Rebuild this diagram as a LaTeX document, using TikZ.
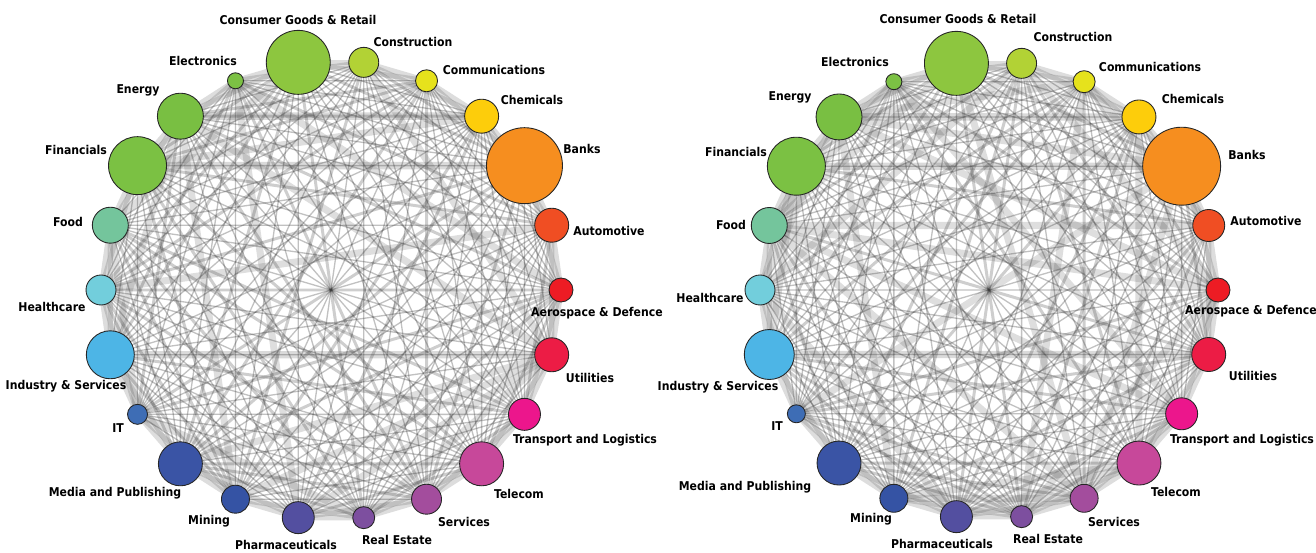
\documentclass[tikz,border=0pt]{standalone}
\usepackage{fontspec}
\setmainfont{DejaVu Sans Condensed}
\usepackage{tikz}
\usetikzlibrary{backgrounds,calc}
\definecolor{cgoods}{HTML}{8DC63F}
\definecolor{constr}{HTML}{B2D235}
\definecolor{comms}{HTML}{E6E21C}
\definecolor{chems}{HTML}{FDCD0B}
\definecolor{banks}{HTML}{F68E1F}
\definecolor{autom}{HTML}{F04E23}
\definecolor{aero}{HTML}{ED1C24}
\definecolor{utils}{HTML}{EC1C45}
\definecolor{transp}{HTML}{EC168C}
\definecolor{telco}{HTML}{C7489A}
\definecolor{servs}{HTML}{A34D9D}
\definecolor{realest}{HTML}{7D4F9F}
\definecolor{pharma}{HTML}{534FA0}
\definecolor{mining}{HTML}{3553A4}
\definecolor{media}{HTML}{3A54A5}
\definecolor{itblue}{HTML}{3E6DB5}
\definecolor{indus}{HTML}{4DB5E6}
\definecolor{health}{HTML}{72CEDC}
\definecolor{food}{HTML}{74C59C}
\definecolor{finan}{HTML}{7BC143}
\definecolor{energy}{HTML}{79BF42}
\definecolor{electr}{HTML}{7CC144}
\tikzset{
    every picture/.style={line cap=round,line join=round},
    sector/.style={circle,draw=black!85,line width=0.5pt,inner sep=0pt,outer sep=0pt},
    sectorlabel/.style={font=\bfseries\fontsize{6.9}{8}\selectfont,inner sep=0pt,text=black},
    link/.style={draw=black!80,line cap=butt},
}
% index/radius/colour/label x/label y/label text
\newcommand{\leftsectors}{%
    0/32/cgoods/298/532/Consumer Goods \& Retail,
    1/15/constr/413/510/Construction,
    2/11/comms/494/482/Communications,
    3/17/chems/532/452/Chemicals,
    4/38/banks/582/403/Banks,
    5/17/autom/609/321/Automotive,
    6/12/aero/597/239/Aerospace \& Defence,
    7/17/utils/590/174/Utilities,
    8/16/transp/585/112/Transport and Logistics,
    9/22/telco/519/58/Telecom,
    10/15/servs/464/30/Services,
    11/11/realest/397/12/Real Estate,
    12/16/pharma/286/7/Pharmaceuticals,
    13/14/mining/209/31/Mining,
    14/22/media/115/59/Media and Publishing,
    15/10/itblue/118/124/IT,
    16/24/indus/66/166/Industry \& Services,
    17/15/health/52/245/Healthcare,
    18/18/food/68/330/Food,
    19/29/finan/76/402/Financials,
    20/23/energy/138/462/Energy,
    21/8/electr/203/491/Electronics}
\newcommand{\rightsectors}{%
    0/32/cgoods/958/533/Consumer Goods \& Retail,
    1/15/constr/1073/515/Construction,
    2/11/comms/1150/485/Communications,
    3/17/chems/1193/453/Chemicals,
    4/39/banks/1247/397/Banks,
    5/16/autom/1266/331/Automotive,
    6/12/aero/1251/241/Aerospace \& Defence,
    7/17/utils/1253/176/Utilities,
    8/16/transp/1242/112/Transport and Logistics,
    9/22/telco/1176/60/Telecom,
    10/14/servs/1114/30/Services,
    11/11/realest/1048/13/Real Estate,
    12/16/pharma/942/8/Pharmaceuticals,
    13/14/mining/871/33/Mining,
    14/22/media/745/65/Media and Publishing,
    15/9/itblue/777/126/IT,
    16/25/indus/718/165/Industry \& Services,
    17/15/health/710/254/Healthcare,
    18/18/food/731/327/Food,
    19/29/finan/736/400/Financials,
    20/23/energy/790/455/Energy,
    21/8/electr/855/490/Electronics}

\begin{document}
\begin{tikzpicture}[x=0.02cm,y=0.02cm]
    \useasboundingbox (0,0) rectangle (1316,552);
    \coordinate (lc) at (331,262);
    \coordinate (rc) at (989,262);
    % sectors on the two rings
    \foreach \k/\r/\col/\lx/\ly/\txt in \leftsectors {
        \node[sector,fill=\col,minimum size={\r*0.04cm}] (L\k) at ($(lc)+(98.18-16.3636*\k:230)$) {};
        \node[sectorlabel] (Llab\k) at (\lx,\ly) {\txt};
    }
    \foreach \k/\r/\col/\lx/\ly/\txt in \rightsectors {
        \node[sector,fill=\col,minimum size={\r*0.04cm}] (R\k) at ($(rc)+(98.18-16.3636*\k:229)$) {};
        \node[sectorlabel] (Rlab\k) at (\lx,\ly) {\txt};
    }
    % links, every pair of sectors
    \begin{scope}[on background layer]
        \foreach \side/\seed in {L/11,R/29} {
            \pgfmathsetseed{\seed}
            \foreach \i in {0,...,20} {
                \pgfmathtruncatemacro\inext{\i+1}
                \foreach \j in {\inext,...,21} {
                    \pgfmathsetmacro\u{rnd}
                    \pgfmathtruncatemacro\gap{min(\j-\i,22-\j+\i)}
                    \pgfmathsetmacro\w{\gap<3 ? 3.0 : (\u<0.62 ? 0.75 : (\u<0.88 ? 1.7 : 4.0))}
                    \pgfmathsetmacro\o{\gap<3 ? 0.17 : (\u<0.62 ? 0.3 : (\u<0.88 ? 0.24 : 0.16))}
                    \draw[link,line width=\w pt,draw opacity=\o] (\side\i.center) -- (\side\j.center);
                }
            }
            % the heavy horizontal bands
            \foreach \a/\b in {19/4,16/7,20/3} {
                \draw[link,line width=4.2pt,draw opacity=0.18] (\side\a.center) -- (\side\b.center);
            }
        }
    \end{scope}
\end{tikzpicture}
\end{document}
